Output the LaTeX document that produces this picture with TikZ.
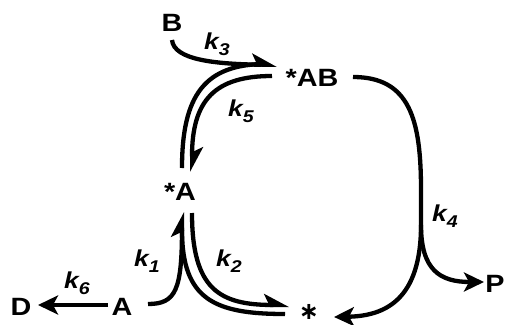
\documentclass[tikz,border=0pt]{standalone}
\usepackage{fontspec}
\setmainfont{Liberation Sans}[FakeStretch=1.15]
\newfontfamily\symfont{DejaVu Sans}
\usetikzlibrary{arrows.meta}
\begin{document}
\begin{tikzpicture}[x=1pt,y=-1pt,
  species/.style={inner sep=0pt, anchor=base, font=\fontsize{25}{25}\selectfont\bfseries},
  rate/.style={inner sep=0pt, font=\fontsize{23}{23}\selectfont\bfseries\itshape},
  flow/.style={line width=4.3pt},
  fwd/.style={flow, -{Stealth[length=20pt,width=19pt,inset=5pt]}},
  half/.style={flow, -{Stealth[harpoon,length=21pt,width=22pt,inset=5pt]}}]
\useasboundingbox (0,0) rectangle (506,324);
\newcommand\rk[1]{k\raisebox{-0.28em}{\fontsize{17}{17}\selectfont #1}}
% species
\node[species] (B)  at (172,31)  {B};
\node[species] (AB) at (312,86)  {*AB};
\node[species] (Ae) at (180,200) {*A};
\node[species] (A)  at (122,315) {A};
\node[species] (D)  at (21,315)  {D};
\node[species] (P)  at (495,292) {P};
\node[species, font=\fontsize{24}{24}\selectfont] (E) at (309,319) {\symfont\bfseries ∗};
% rate constants
\node[rate] (k3) at (217,44)  {\rk{3}};
\node[rate] (k5) at (241,111) {\rk{5}};
\node[rate] (k4) at (445,216) {\rk{4}};
\node[rate] (k2) at (229,261) {\rk{2}};
\node[rate] (k1) at (147,261) {\rk{1}};
\node[rate] (k6) at (77,283)  {\rk{6}};
% end points of the connectors
\coordinate (Bout)    at (172,40);
\coordinate (ABin)    at (277,65);
\coordinate (ABback)  at (266,64);
\coordinate (ABout)   at (272,76);
\coordinate (ABright) at (353,77);
\coordinate (Aetop1)  at (182,168);
\coordinate (Aetop2)  at (192,172);
\coordinate (Aebot1)  at (182,212);
\coordinate (Aebot2)  at (192,213);
\coordinate (Aeside)  at (182,230);
\coordinate (Aright)  at (148,304);
\coordinate (Aleft)   at (108,305);
\coordinate (Dright)  at (38,305);
\coordinate (Ein1)    at (289,305);
\coordinate (Ein2)    at (285,314);
\coordinate (Eright)  at (334,317);
\coordinate (split)   at (421,225);
\coordinate (Pin)     at (484,282);
% B + *A -> *AB and back
\draw[half] (Bout) .. controls (174,60) and (215,64) .. (ABin);
\draw[flow] (Aetop1) .. controls (182,95) and (205,64) .. (ABback);
\draw[half] (ABout) .. controls (215,76) and (192,100) .. (Aetop2);
% A -> *A and *A -> *
\draw[half] (Aright) .. controls (176,304) and (182,290) .. (Aebot1);
\draw[flow] (Aeside) .. controls (182,300) and (215,314) .. (Ein2);
\draw[half] (Aebot2) .. controls (192,290) and (220,305) .. (Ein1);
% *AB -> * + P
\draw[flow] (ABright) .. controls (410,77) and (421,120) .. (421,190) -- (split);
\draw[fwd] (split) .. controls (421,300) and (385,316) .. (Eright);
\draw[fwd] (split) .. controls (421,270) and (440,282) .. (Pin);
% A -> D
\draw[fwd] (Aleft) -- (Dright);
\end{tikzpicture}
\end{document}
